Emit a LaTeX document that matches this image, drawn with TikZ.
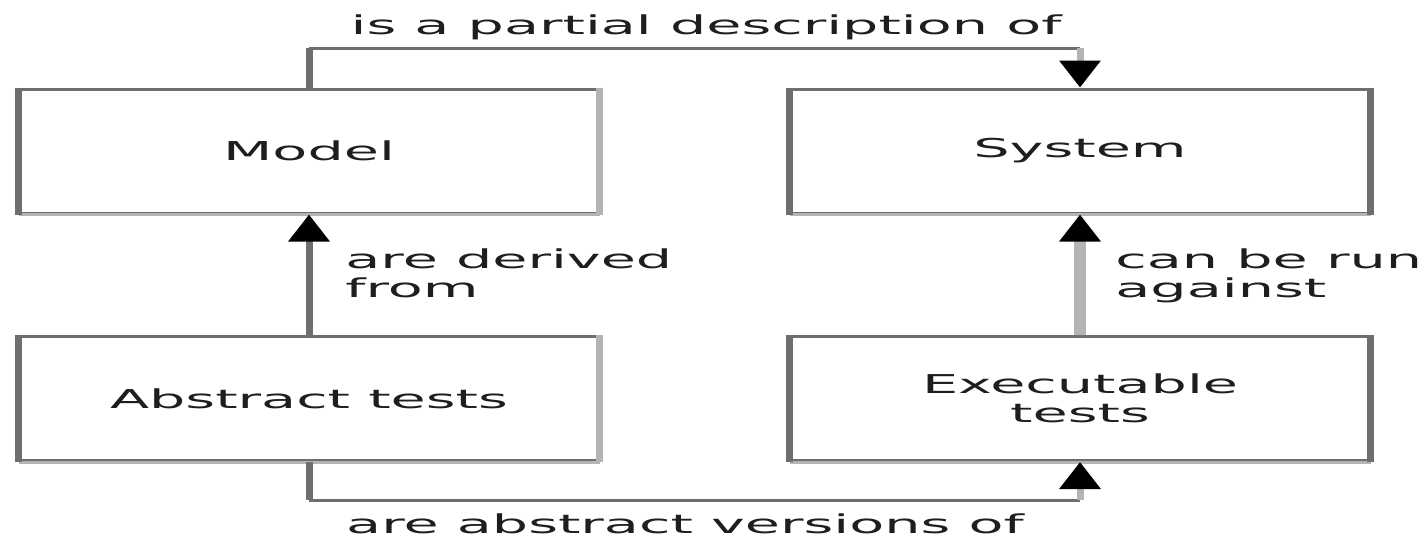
\documentclass[tikz,border=0pt]{standalone}
\usepackage{fontspec}
\usetikzlibrary{arrows.meta}
\newfontfamily\labelfont[FakeStretch=2.2]{DejaVu Sans}
\definecolor{edgedark}{HTML}{6E6E6E}
\definecolor{edgelight}{HTML}{B4B4B4}
\definecolor{inkgrey}{HTML}{1E1E1E}
\begin{document}
\begin{tikzpicture}[x=0.5pt,y=-0.5pt,
  every node/.style={font=\labelfont\fontsize{13pt}{14.5pt}\selectfont, text=inkgrey, inner sep=0pt},
  box/.style={minimum width=289pt, minimum height=62pt, draw=edgedark, line width=1.5pt},
  hline/.style={draw=edgedark, line width=1.5pt},
  vline/.style={draw=edgedark, line width=3.5pt},
  lightv/.style={draw=edgelight, line width=3.5pt},
  widev/.style={draw=edgelight, line width=6pt},
  tip/.style={-{Triangle[width=20pt,length=13.5pt,color=black]}},
]
\useasboundingbox (0,0) rectangle (1423,538);
\fill[white] (0,0) rectangle (1423,538);

% the four boxes
\node[box] (model) at (309,151) {Model};
\node[box] (system) at (1080,151) {System};
\node[box] (abstract) at (309,398.5) {Abstract tests};
\node[box, align=center] (exec) at (1080,398.5) {Executable\\tests};

% heavier side edges, lighter bottom edges
\foreach \n/\rc in {model/edgelight, system/edgedark, abstract/edgelight, exec/edgedark} {
  \draw[edgelight, line width=1.5pt] (\n.south west) -- (\n.south east);
  \draw[vline] (\n.north west) -- (\n.south west);
  \draw[\rc, line width=3.5pt] (\n.north east) -- (\n.south east);
}

% routing levels for the outer connectors
\coordinate (ytop) at (0,48);
\coordinate (ybot) at (0,500);
\coordinate (tl) at (model.north |- ytop);
\coordinate (tr) at (system.north |- ytop);
\coordinate (bl) at (abstract.south |- ybot);
\coordinate (br) at (exec.south |- ybot);

% Model -> System
\draw[vline] (model.north) -- (tl);
\draw[hline] (tl) -- (tr);
\draw[lightv, tip] (tr) -- (system.north);

% Abstract tests -> Model
\draw[vline, tip] (abstract.north) -- (model.south);

% Executable tests -> System
\draw[widev, tip] (exec.north) -- (system.south);

% Abstract tests -> Executable tests
\draw[vline] (abstract.south) -- (bl);
\draw[hline] (bl) -- (br);
\draw[lightv, tip] (br) -- (exec.south);

% connector labels
\node[anchor=base] (lbltop) at (706,34) {is a partial description of};
\node[anchor=north west, align=left] (lblderive) at (345,248) {are derived\\from};
\node[anchor=north west, align=left] (lblrun) at (1115,248) {can be run\\against};
\node[anchor=base] (lblbottom) at (685,533) {are abstract versions of};
\end{tikzpicture}
\end{document}
